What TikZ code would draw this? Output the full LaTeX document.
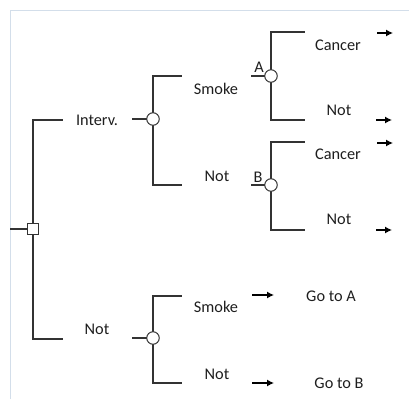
\documentclass[tikz,border=0pt]{standalone}
\usepackage{fontspec}
\setmainfont{Carlito}
\usetikzlibrary{arrows.meta}
\definecolor{ln}{HTML}{333333}
\definecolor{tx}{HTML}{1E1E1E}
\definecolor{frm}{HTML}{D3DEEA}
\tikzset{
  lbl/.style={font=\fontsize{16.3}{18}\selectfont, text=tx, inner sep=0pt},
  chance/.style={circle, draw=ln, fill=white, line width=1pt, minimum size=12.5pt, inner sep=0pt},
  decision/.style={rectangle, draw=ln, fill=white, line width=1pt, minimum size=11pt, inner sep=0pt},
  br/.style={draw=ln, line width=1.1pt},
  outarrow/.style={draw=black, line width=1.2pt, -{Latex[length=7pt,width=7pt]}},
  frame/.style={draw=frm, line width=1pt}
}
\begin{document}
\begin{tikzpicture}[x=1pt,y=-1pt]
\useasboundingbox (0,0) rectangle (409,399);
\draw[frame] (10,399) -- (10,10) -- (409,10);

% root decision
\coordinate (root) at (10,229);
\node[decision] (d) at (33,229) {};
\coordinate (t1) at (63,120);
\coordinate (b1) at (63,339);
\draw[br] (root) -- (d);
\draw[br] (d.north) |- (t1);
\draw[br] (d.south) |- (b1);

% Interv. branch
\node[lbl] (interv) at (97,120) {Interv.};
\coordinate (c1in) at (132,119);
\draw[br] (c1in) -- (153,119);
\coordinate (s1) at (182,76);
\coordinate (n1) at (182,185);
\draw[br] (153,119) |- (s1);
\draw[br] (153,119) |- (n1);
\node[chance] (c1) at (153,119) {};
\node[lbl] (smoke1) at (216,89) {Smoke};
\node[lbl] (not1) at (217,176) {Not};

% chance A
\coordinate (ain) at (251,76);
\draw[br] (ain) -- (271,76);
\coordinate (ac) at (305,32);
\coordinate (an) at (305,120);
\draw[br] (271,76) |- (ac);
\draw[br] (271,76) |- (an);
\node[chance] (A) at (271,76) {};
\node[lbl] (Alab) at (259,67) {A};
\node[lbl] (cancerA) at (338,45) {Cancer};
\node[lbl] (notA) at (339,110) {Not};
\coordinate (a1s) at (377,33); \coordinate (a1e) at (393,33);
\coordinate (a2s) at (376,120); \coordinate (a2e) at (392,120);
\draw[outarrow] (a1s) -- (a1e);
\draw[outarrow] (a2s) -- (a2e);

% chance B
\coordinate (bin) at (251,185);
\draw[br] (bin) -- (271,185);
\coordinate (bc) at (305,142);
\coordinate (bn) at (305,230);
\draw[br] (271,185) |- (bc);
\draw[br] (271,185) |- (bn);
\node[chance] (B) at (271,185) {};
\node[lbl] (Blab) at (258,177) {B};
\node[lbl] (cancerB) at (338,154) {Cancer};
\node[lbl] (notB) at (339,219) {Not};
\coordinate (b3s) at (377,143); \coordinate (b3e) at (393,143);
\coordinate (b4s) at (376,230); \coordinate (b4e) at (392,230);
\draw[outarrow] (b3s) -- (b3e);
\draw[outarrow] (b4s) -- (b4e);

% Not branch
\node[lbl] (not0) at (97,329) {Not};
\coordinate (c2in) at (132,338);
\draw[br] (c2in) -- (153,338);
\coordinate (s2) at (182,296);
\coordinate (n2) at (182,383);
\draw[br] (153,338) |- (s2);
\draw[br] (153,338) |- (n2);
\node[chance] (c2) at (153,338) {};
\node[lbl] (smoke2) at (216,307) {Smoke};
\node[lbl] (not2) at (217,374) {Not};
\coordinate (g1s) at (252,295); \coordinate (g1e) at (274,295);
\coordinate (g2s) at (252,383); \coordinate (g2e) at (274,383);
\draw[outarrow] (g1s) -- (g1e);
\draw[outarrow] (g2s) -- (g2e);
\node[lbl] (gotoA) at (331,296) {Go to A};
\node[lbl] (gotoB) at (339,383) {Go to B};
\end{tikzpicture}
\end{document}
